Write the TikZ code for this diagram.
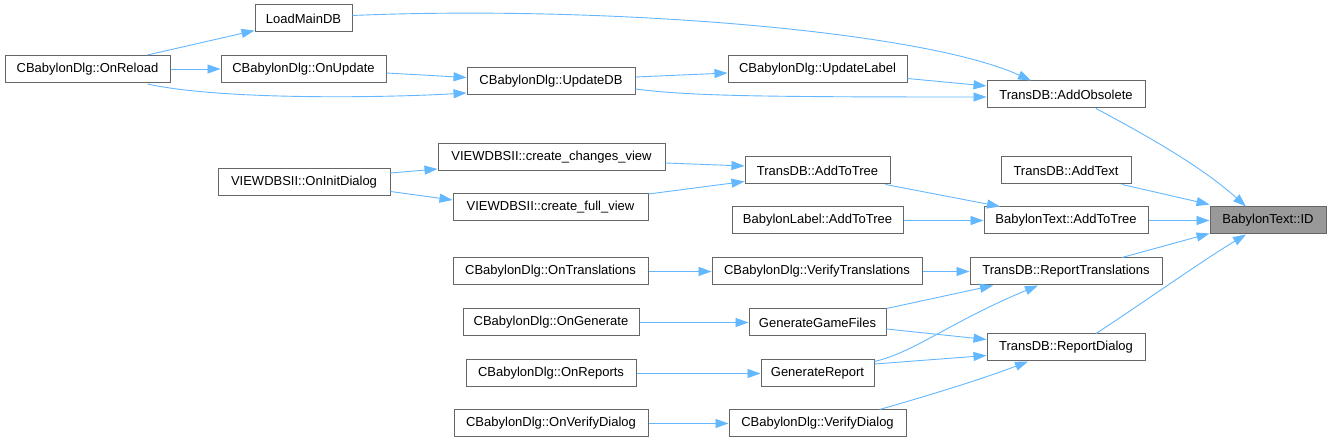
\documentclass[tikz,border=0pt]{standalone}
\usepackage{fontspec}
\setmainfont{Liberation Sans}
\usetikzlibrary{arrows.meta,calc}
\definecolor{edgeblue}{HTML}{63B8FF}
\definecolor{boxgray}{HTML}{666666}
\definecolor{idfill}{HTML}{999999}
\tikzset{
  fnbox/.style={draw=boxgray, fill=white, line width=1pt, minimum height=27pt, inner sep=0pt,
    font=\fontsize{13}{15}\selectfont},
  idbox/.style={fnbox, fill=idfill},
  callarrow/.style={draw=edgeblue, line width=0.9pt, -{Triangle[length=13pt,width=9pt]}}
}
\begin{document}
\begin{tikzpicture}[x=1pt,y=-1pt]
\useasboundingbox[fill=white] (0,0) rectangle (1331,443);
% nodes
\node[fnbox, minimum width=97pt]  (load)        at (303.5,18.5) {LoadMainDB};
\node[fnbox, minimum width=165pt] (onreload)    at (87.5,69)    {CBabylonDlg::OnReload};
\node[fnbox, minimum width=165pt] (onupdate)    at (303.5,69)   {CBabylonDlg::OnUpdate};
\node[fnbox, minimum width=168pt] (updatedb)    at (551,81.5)   {CBabylonDlg::UpdateDB};
\node[fnbox, minimum width=179pt] (updlabel)    at (817.5,69.5) {CBabylonDlg::UpdateLabel};
\node[fnbox, minimum width=158pt] (addobs)      at (1066,94.5)  {TransDB::AddObsolete};
\node[fnbox, minimum width=227pt] (ccv)         at (551.5,157.5){VIEWDBSII::create\_changes\_view};
\node[fnbox, minimum width=172pt] (oninit)      at (304,182.5)  {VIEWDBSII::OnInitDialog};
\node[fnbox, minimum width=195pt] (cfv)         at (550.5,207)  {VIEWDBSII::create\_full\_view};
\node[fnbox, minimum width=145pt] (tdbatt)      at (817.5,170.5){TransDB::AddToTree};
\node[fnbox, minimum width=130pt] (addtext)     at (1066,170.5) {TransDB::AddText};
\node[idbox, minimum width=116pt] (id)          at (1268,220.5) {BabylonText::ID};
\node[fnbox, minimum width=171pt] (blatt)       at (817.5,220.5){BabylonLabel::AddToTree};
\node[fnbox, minimum width=164pt] (btatt)       at (1066,220.5) {BabylonText::AddToTree};
\node[fnbox, minimum width=195pt] (ontrans)     at (550.5,271.5){CBabylonDlg::OnTranslations};
\node[fnbox, minimum width=210pt] (verifytrans) at (817,271.5)  {CBabylonDlg::VerifyTranslations};
\node[fnbox, minimum width=192pt] (reptrans)    at (1066,271.5) {TransDB::ReportTranslations};
\node[fnbox, minimum width=176pt] (ongen)       at (551,322.5)  {CBabylonDlg::OnGenerate};
\node[fnbox, minimum width=137pt] (ggf)         at (817.5,322.5){GenerateGameFiles};
\node[fnbox, minimum width=158pt] (repdlg)      at (1066,347.5) {TransDB::ReportDialog};
\node[fnbox, minimum width=170pt] (onrep)       at (551,373.5)  {CBabylonDlg::OnReports};
\node[fnbox, minimum width=113pt] (genrep)      at (817.5,373.5){GenerateReport};
\node[fnbox, minimum width=194pt] (onverdlg)    at (551,423.5)  {CBabylonDlg::OnVerifyDialog};
\node[fnbox, minimum width=177pt] (verdlg)      at (817.5,423.5){CBabylonDlg::VerifyDialog};
% edges
\draw[callarrow] ($(onreload.north)+(60,0)$) -- ($(load.west)+(0,12)$);
\draw[callarrow] (onreload.east) -- (onupdate.west);
\draw[callarrow] ($(onreload.south)+(60,1)$) .. controls (220,100) and (380,98) .. ($(updatedb.west)+(0,11.5)$);
\draw[callarrow] ($(onupdate.east)+(0,4)$) -- ($(updatedb.west)+(0,-4)$);
\draw[callarrow] ($(updatedb.east)+(0,-4.5)$) -- ($(updlabel.west)+(0,3.5)$);
\draw[callarrow] ($(updatedb.east)+(0,7.5)$) .. controls (690,96) and (760,97) .. ($(addobs.west)+(0,2.5)$);
\draw[callarrow] ($(updlabel.east)+(0,9)$) -- ($(addobs.west)+(0,-8.5)$);
\draw[callarrow] ($(load.east)+(0,-3)$) .. controls (600,5) and (920,30) .. ($(addobs.north)+(-35,0)$);
\draw[callarrow] ($(addobs.south)+(30,0)$) .. controls (1140,132) and (1200,165) .. ($(id.north)+(-22,0)$);
\draw[callarrow] ($(oninit.east)+(0,-9.5)$) -- ($(ccv.west)+(0,11.5)$);
\draw[callarrow] ($(oninit.east)+(0,9)$) -- ($(cfv.west)+(0,-7)$);
\draw[callarrow] ($(ccv.east)+(0,5.5)$) -- ($(tdbatt.west)+(0,-4.5)$);
\draw[callarrow] ($(cfv.east)+(0,-13)$) -- ($(tdbatt.west)+(0,11)$);
\draw[callarrow] ($(tdbatt.south)+(68,0)$) -- ($(btatt.north)+(-66,0)$);
\draw[callarrow] (blatt.east) -- (btatt.west);
\draw[callarrow] (btatt.east) -- (id.west);
\draw[callarrow] ($(addtext.south)+(56,0)$) -- ($(id.west)+(0,-16)$);
\draw[callarrow] ($(reptrans.north)+(56,0)$) -- ($(id.west)+(0,13)$);
\draw[callarrow] ($(repdlg.north)+(30,0)$) .. controls (1140,305) and (1200,262) .. ($(id.south)+(-22,0)$);
\draw[callarrow] (ontrans.east) -- (verifytrans.west);
\draw[callarrow] (verifytrans.east) -- (reptrans.west);
\draw[callarrow] (ongen.east) -- (ggf.west);
\draw[callarrow] (ggf.north east) -- ($(reptrans.south)+(-73,0)$);
\draw[callarrow] ($(ggf.east)+(0,6.5)$) -- ($(repdlg.west)+(0,-8)$);
\draw[callarrow] (onrep.east) -- (genrep.west);
\draw[callarrow] ($(genrep.east)+(0,-12)$) .. controls (915,352) and (950,322) .. ($(reptrans.south)+(-28,0)$);
\draw[callarrow] ($(genrep.east)+(0,-9.5)$) -- ($(repdlg.west)+(0,8)$);
\draw[callarrow] (onverdlg.east) -- (verdlg.west);
\draw[callarrow] ($(verdlg.north)+(62,0)$) .. controls (920,398) and (980,380) .. ($(repdlg.south)+(-38,0)$);
\end{tikzpicture}
\end{document}
